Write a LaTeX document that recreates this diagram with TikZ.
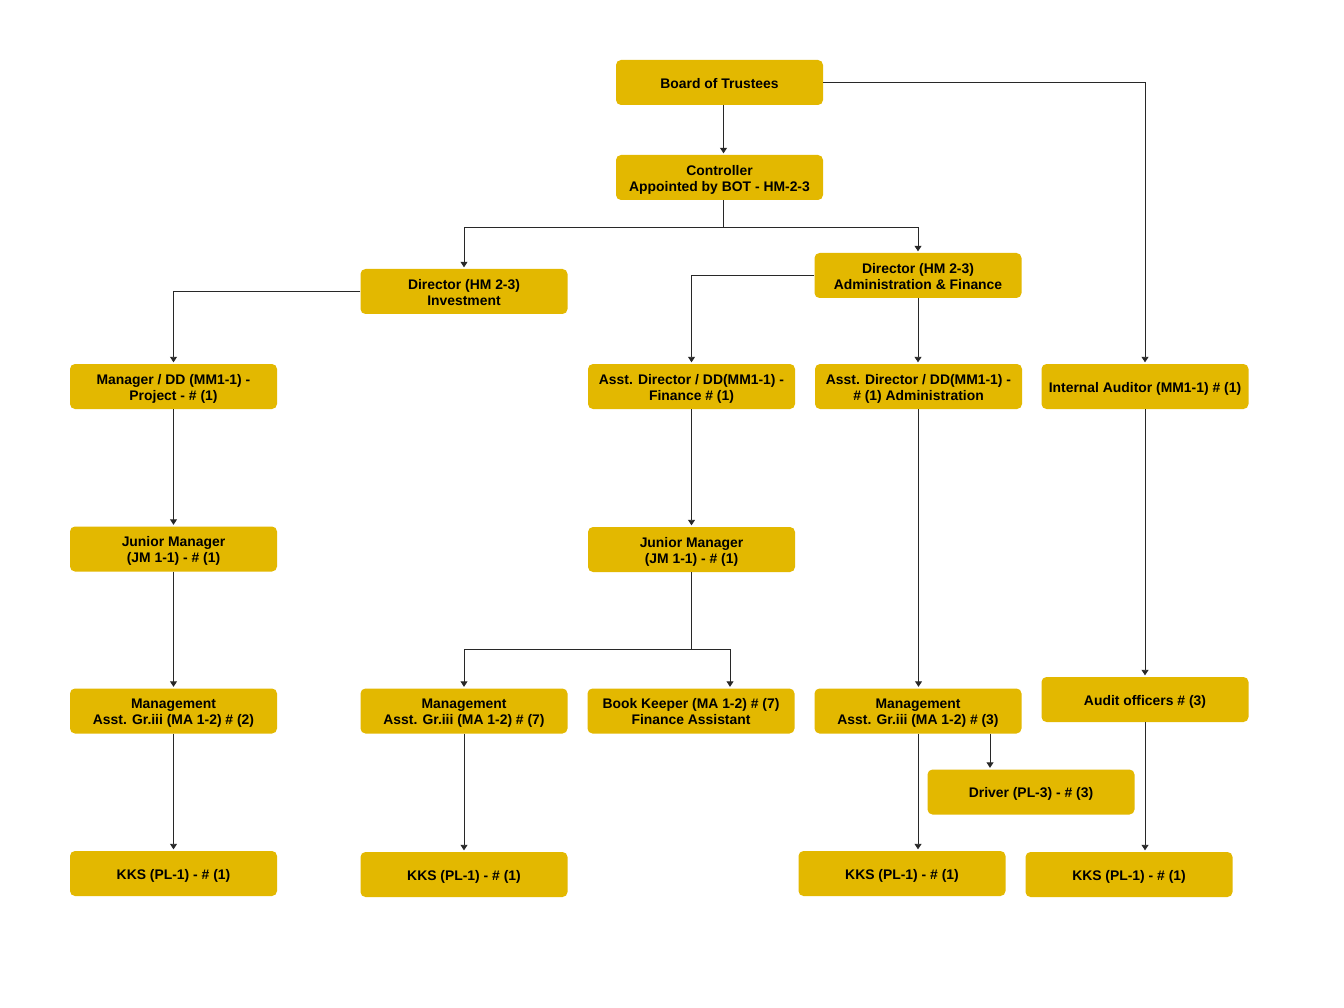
\documentclass[tikz,border=0pt]{standalone}
\usepackage{fontspec}
\setmainfont{Liberation Sans}
\usetikzlibrary{arrows.meta}
\definecolor{boxyellow}{RGB}{227,184,0}
\definecolor{linec}{RGB}{40,40,40}
\newcommand\lbl[1]{\raisebox{-6.3pt}[0pt][0pt]{\begin{tabular}[c]{@{}c@{}}#1\end{tabular}}}
\tikzset{
  box/.style={rectangle, rounded corners=5pt, fill=boxyellow, draw=none,
    minimum width=207pt, minimum height=45pt, inner sep=0pt, align=center,
    text=black, font=\fontsize{13.9}{16}\selectfont\bfseries},
  conn/.style={draw=linec, line width=0.9pt, -{Triangle[width=7pt,length=5.5pt]}, shorten >=1.5pt},
  plain/.style={draw=linec, line width=0.9pt}
}
\begin{document}
\begin{tikzpicture}[x=1pt,y=-1pt]
\useasboundingbox[fill=white] (0,0) rectangle (1344,1008);
% nodes
\node[box] (bot)  at (719.5,82.5) {\lbl{Board of Trustees}};
\node[box] (ctrl) at (719.5,177.5) {\lbl{Controller\\Appointed by BOT - HM-2-3}};
\node[box] (dinv) at (464,291.5) {\lbl{Director (HM 2-3)\\Investment}};
\node[box] (dadm) at (918,275.5) {\lbl{Director (HM 2-3)\\Administration \& Finance}};
\node[box] (mgr)  at (173.5,386.5) {\lbl{Manager / DD (MM1-1) -\\Project - \# (1)}};
\node[box] (adf)  at (691.5,386.5) {\lbl{Asst. Director / DD(MM1-1) -\\Finance \# (1)}};
\node[box] (ada)  at (918.5,386.5) {\lbl{Asst. Director / DD(MM1-1) -\\\# (1) Administration}};
\node[box] (ia)   at (1145,386.5) {\lbl{Internal Auditor (MM1-1) \# (1)}};
\node[box] (jm1)  at (173.5,549) {\lbl{Junior Manager\\(JM 1-1) - \# (1)}};
\node[box] (jm2)  at (691.5,549.5) {\lbl{Junior Manager\\(JM 1-1) - \# (1)}};
\node[box] (ma1)  at (173.5,711) {\lbl{Management\\Asst. Gr.iii (MA 1-2) \# (2)}};
\node[box] (ma2)  at (464,711) {\lbl{Management\\Asst. Gr.iii (MA 1-2) \# (7)}};
\node[box] (bk)   at (691,711) {\lbl{Book Keeper (MA 1-2) \# (7)\\Finance Assistant}};
\node[box] (ma3)  at (918,711) {\lbl{Management\\Asst. Gr.iii (MA 1-2) \# (3)}};
\node[box] (ao)   at (1145,699.5) {\lbl{Audit officers \# (3)}};
\node[box] (drv)  at (1031,792) {\lbl{Driver (PL-3) - \# (3)}};
\node[box] (kks1) at (173.5,873.5) {\lbl{KKS (PL-1) - \# (1)}};
\node[box] (kks2) at (464,874.5) {\lbl{KKS (PL-1) - \# (1)}};
\node[box] (kks3) at (902,873.5) {\lbl{KKS (PL-1) - \# (1)}};
\node[box] (kks4) at (1129,874.5) {\lbl{KKS (PL-1) - \# (1)}};
% junctions
\coordinate (cj) at (723.5,227);
\coordinate (jj) at (691.5,649);
% connectors
\draw[conn] ([xshift=4pt]bot.south) -- ([xshift=4pt]ctrl.north);
\draw[conn] (bot.east) -| (ia.north);
\draw[plain] ([xshift=4pt]ctrl.south) -- (cj);
\draw[conn] (cj) -| (dinv.north);
\draw[conn] (cj) -| (dadm.north);
\draw[conn] (dinv.west) -| (mgr.north);
\draw[conn] (dadm.west) -| (adf.north);
\draw[conn] (dadm.south) -- (dadm.south |- ada.north);
\draw[conn] (mgr.south) -- (jm1.north);
\draw[conn] (jm1.south) -- (ma1.north);
\draw[conn] (ma1.south) -- (kks1.north);
\draw[conn] (adf.south) -- (jm2.north);
\draw[plain] (jm2.south) -- (jj);
\draw[conn] (jj) -| (ma2.north);
\draw[conn] (jj) -| ([xshift=39pt]bk.north);
\draw[conn] (ma2.south) -- (kks2.north);
\draw[conn] (ada.south) -- (ada.south |- ma3.north);
\draw[conn] (ma3.south) -- (ma3.south |- kks3.north);
\draw[conn] ([xshift=72pt]ma3.south) -- ([xshift=72pt]ma3.south |- drv.north);
\draw[conn] (ia.south) -- (ao.north);
\draw[conn] (ao.south) -- (ao.south |- kks4.north);
\end{tikzpicture}
\end{document}
